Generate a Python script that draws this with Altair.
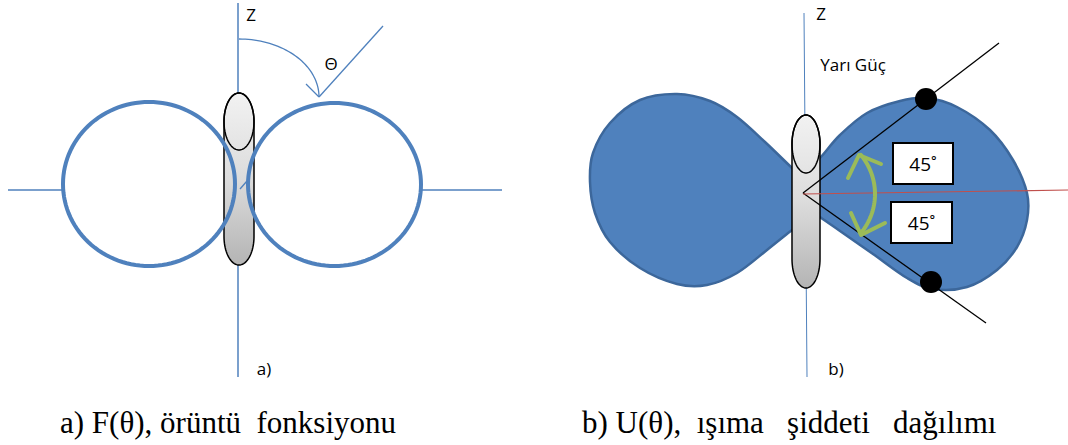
import math

import altair as alt
import pandas as pd

W, H = 1068, 445
NB = "\u00a0"

# ---------------- panel a: pattern function F(theta) ----------------
z_axis_a = [(238, 3), (238, 377)]
h_axis_a_left = [(8, 190), (63, 190)]
h_axis_a_right = [(421, 190), (502, 190)]
theta_ray = [(383, 26), (319, 97)]
theta_ray_stub = [(240, 189), (247, 181)]
theta_arrow_arm = [(306, 84), (319, 97)]
theta_arc = dict(cx=239, cy=97, rx=80, ry=58, a0=90, a1=0)
circle_left = dict(cx=149, cy=184, rx=86, ry=82)
circle_right = dict(cx=334.5, cy=184.5, rx=86.5, ry=81.5)
dipole_a = dict(x0=224, x1=254, y0=93, y1=265, cap=28.5)

# ---------------- panel b: radiation intensity U(theta) ----------------
z_axis_b = [(804, 13), (807, 377)]
lobe_left = [(805, 180), (792, 168), (765, 142), (737, 117), (710, 101),
             (677, 94), (640, 100), (610, 123), (593, 153), (590, 182),
             (595, 213), (610, 242), (640, 268), (677, 284), (707, 285),
             (737, 273), (767, 250), (792, 230), (805, 220)]
lobe_right = [(805, 172), (820, 158), (840, 135), (867, 113), (900, 101),
              (927, 98), (957, 107), (990, 130), (1013, 160), (1027, 193),
              (1027, 220), (1017, 247), (997, 270), (967, 287), (933, 289),
              (907, 278), (873, 254), (840, 231), (820, 217), (805, 206)]
dipole_b = dict(x0=792, x1=820, y0=115, y1=288, cap=29)
half_power_upper = [(803, 193), (999, 43)]
half_power_lower = [(803, 193), (986, 323)]
boresight = [(803, 194), (1068, 190)]
half_power_dot_x = [926, 931]
half_power_dot_y = [99, 282]
angle_arc = dict(cx=814, cy=194, r=61, a0=-40, a1=40)
arrow_head_top = [(848, 178), (859, 155), (881, 164)]
arrow_head_bottom = [(851, 213), (861, 235), (885, 223)]
box_x0 = [893, 891]
box_x1 = [953, 952]
box_y0 = [143, 202]
box_y1 = [184, 243]
box_labels = ["45˚", "45˚"]

# ---------------- text ----------------
label_text = ["Z", "Θ", "a)", "Z", "Yarı Güç", "b)"]
label_x = [251, 331, 264, 821, 853, 836]
label_y = [16, 65, 370, 15, 66, 370]
caption_text = [
    "a) F(θ), örüntü" + NB * 2 + "fonksiyonu",
    "b) U(θ)," + NB * 2 + "ışıma" + NB * 3 + "şiddeti" + NB * 3 + "dağılımı",
]
caption_x = [60, 582]
caption_y = [433, 433]

LINE_BLUE = "#4F81BD"
LOBE_EDGE = "#3C679B"
GREEN = "#9BBB59"
RED = "#C0504D"


def ellipse_pts(cx, cy, rx, ry, n=120):
    return [(cx + rx * math.cos(2 * math.pi * k / n),
             cy + ry * math.sin(2 * math.pi * k / n)) for k in range(n)]


def arc_pts(cx, cy, rx, ry, a0, a1, n=40, up=True):
    out = []
    for k in range(n + 1):
        a = math.radians(a0 + (a1 - a0) * k / n)
        out.append((cx + rx * math.cos(a), cy - ry * math.sin(a) if up else cy + ry * math.sin(a)))
    return out


def capsule_pts(d, n=40):
    xc = (d["x0"] + d["x1"]) / 2
    rx = (d["x1"] - d["x0"]) / 2
    ry = d["cap"]
    top_c = d["y0"] + ry
    bot_c = d["y1"] - ry
    pts = []
    for k in range(n + 1):
        t = math.pi + math.pi * k / n
        pts.append((xc + rx * math.cos(t), top_c + ry * math.sin(t)))
    for k in range(n + 1):
        t = math.pi * k / n
        pts.append((xc + rx * math.cos(t), bot_c + ry * math.sin(t)))
    return pts


def frame(shapes, **extra):
    rows = []
    for sid, pts in shapes.items():
        for i, (x, y) in enumerate(pts):
            row = dict(id=sid, i=i, x=x, y=y)
            for key, vals in extra.items():
                row[key] = vals[sid]
            rows.append(row)
    return pd.DataFrame(rows)


X = alt.X("x:Q", scale=alt.Scale(domain=[0, W], nice=False, zero=False), axis=None)
Y = alt.Y("y:Q", scale=alt.Scale(domain=[0, H], reverse=True, nice=False, zero=False), axis=None)
X2 = alt.X("x0:Q", scale=alt.Scale(domain=[0, W], nice=False, zero=False), axis=None)
Y2 = alt.Y("y0:Q", scale=alt.Scale(domain=[0, H], reverse=True, nice=False, zero=False), axis=None)


def line_layer(df, **mark):
    return alt.Chart(df).mark_line(**mark).encode(
        x=X, y=Y, detail="id:N", order=alt.Order("i:Q"),
    )


# thin axis lines and the theta annotation
thin = frame({
    "za": z_axis_a, "hl": h_axis_a_left, "hr": h_axis_a_right,
    "ray": theta_ray, "arm": theta_arrow_arm,
    "arc": arc_pts(**theta_arc),
}, w={"za": 1.5, "hl": 1.5, "hr": 1.5, "ray": 1.3, "arm": 1.3, "arc": 1.3})
thin_layer = alt.Chart(thin).mark_line(color=LINE_BLUE).encode(
    x=X, y=Y, detail="id:N", order=alt.Order("i:Q"),
    strokeWidth=alt.StrokeWidth("w:Q", scale=None),
)
zb_layer = line_layer(frame({"zb": z_axis_b}), color=LINE_BLUE, strokeWidth=1)

# filled lobes of the intensity pattern
lobes = frame({"left": lobe_left, "right": lobe_right})
lobe_layer = line_layer(lobes, interpolate="cardinal-closed", fill=LINE_BLUE,
                        stroke=LOBE_EDGE, strokeWidth=2.5, fillOpacity=1)

# dipole elements
grad = alt.LinearGradient(
    gradient="linear",
    stops=[alt.GradientStop(color="#f2f2f2", offset=0),
           alt.GradientStop(color="#dcdcdc", offset=0.5),
           alt.GradientStop(color="#b4b4b4", offset=1)],
    x1=0, x2=0, y1=0, y2=1,
)
bodies = frame({"a": capsule_pts(dipole_a), "b": capsule_pts(dipole_b)})
body_layer = line_layer(bodies, interpolate="linear-closed", fill=grad,
                        stroke="black", strokeWidth=1.5)
caps = frame({
    "a": ellipse_pts((dipole_a["x0"] + dipole_a["x1"]) / 2, dipole_a["y0"] + dipole_a["cap"],
                     (dipole_a["x1"] - dipole_a["x0"]) / 2, dipole_a["cap"]),
    "b": ellipse_pts((dipole_b["x0"] + dipole_b["x1"]) / 2, dipole_b["y0"] + dipole_b["cap"],
                     (dipole_b["x1"] - dipole_b["x0"]) / 2, dipole_b["cap"]),
})
cap_layer = line_layer(caps, interpolate="linear-closed", stroke="black", strokeWidth=1.5)

# pattern function circles
circles = frame({"l": ellipse_pts(**circle_left), "r": ellipse_pts(**circle_right)})
circle_layer = line_layer(circles, interpolate="linear-closed", stroke=LINE_BLUE, strokeWidth=4)
stub_layer = line_layer(frame({"s": theta_ray_stub}), color=LINE_BLUE, strokeWidth=1.3)

# half-power beam lines, boresight and the 90 degree arc
hp_layer = line_layer(frame({"u": half_power_upper, "d": half_power_lower}),
                      color="black", strokeWidth=1.3)
red_layer = line_layer(frame({"r": boresight}), color=RED, strokeWidth=1.2)
green_layer = line_layer(frame({
    "arc": arc_pts(angle_arc["cx"], angle_arc["cy"], angle_arc["r"], angle_arc["r"],
                   angle_arc["a0"], angle_arc["a1"], up=False),
    "ht": arrow_head_top, "hb": arrow_head_bottom,
}), color=GREEN, strokeWidth=4, strokeCap="round", strokeJoin="round")

dots = pd.DataFrame({"x": half_power_dot_x, "y": half_power_dot_y})
dot_layer = alt.Chart(dots).mark_circle(size=484, color="black", opacity=1).encode(x=X, y=Y)

boxes = pd.DataFrame({"x0": box_x0, "x1": box_x1, "y0": box_y0, "y1": box_y1,
                      "label": box_labels})
boxes["x"] = (boxes["x0"] + boxes["x1"]) / 2
boxes["y"] = (boxes["y0"] + boxes["y1"]) / 2
box_layer = alt.Chart(boxes).mark_rect(fill="white", stroke="black", strokeWidth=2).encode(
    x=X2, x2="x1:Q", y=Y2, y2="y1:Q")
box_text = alt.Chart(boxes).mark_text(font="Open Sans", fontSize=19, color="black",
                                      baseline="middle", dy=1).encode(x=X, y=Y, text="label:N")

labels = pd.DataFrame({"t": label_text, "x": label_x, "y": label_y})
label_layer = alt.Chart(labels).mark_text(font="Open Sans", fontSize=17, color="black",
                                          baseline="middle").encode(x=X, y=Y, text="t:N")

captions = pd.DataFrame({"t": caption_text, "x": caption_x, "y": caption_y})
caption_layer = alt.Chart(captions).mark_text(font="Liberation Serif", fontSize=31, color="black",
                                              align="left", baseline="alphabetic").encode(
    x=X, y=Y, text="t:N")

chart = alt.layer(
    thin_layer, zb_layer, lobe_layer, body_layer, cap_layer, circle_layer, stub_layer,
    hp_layer, red_layer, green_layer, dot_layer, box_layer, box_text,
    label_layer, caption_layer,
).properties(
    width=W, height=H, padding=0, autosize=alt.AutoSizeParams(type="none"),
).configure_view(stroke=None)

chart.save("out.html", embed_options={"renderer": "svg", "actions": False})
